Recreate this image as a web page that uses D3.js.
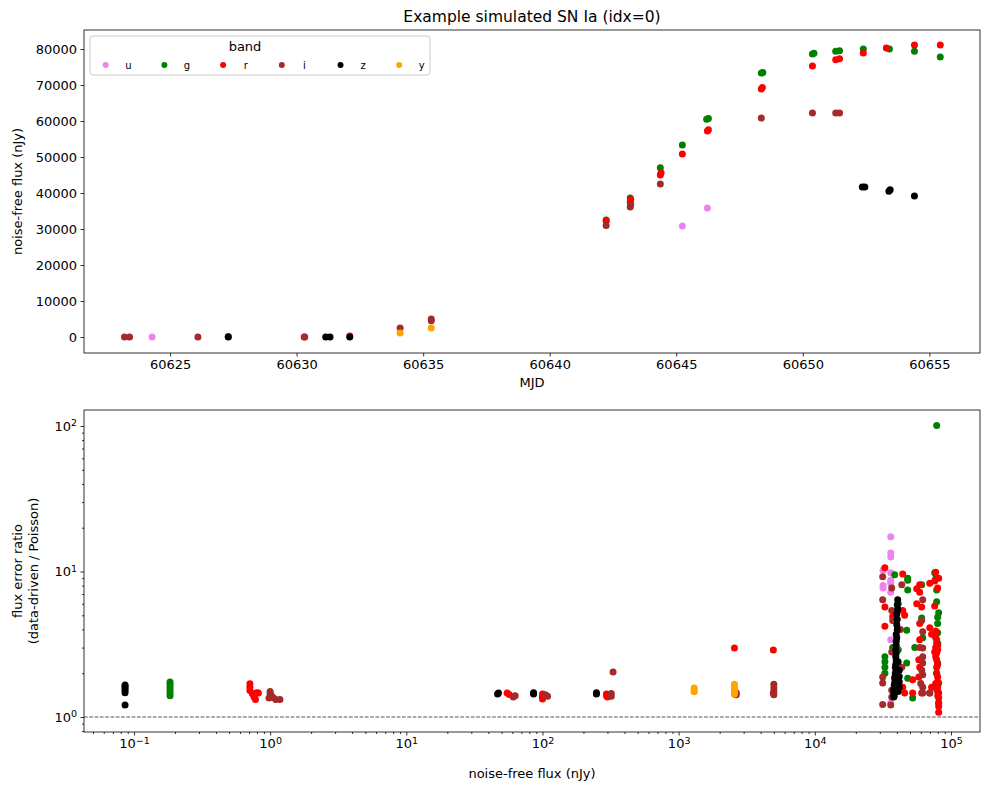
<!DOCTYPE html>
<html>
  <head>
    <meta charset="utf-8">
    <title>Example simulated SN Ia (idx=0)</title>
    <script src="https://cdn.jsdelivr.net/npm/d3@7"></script>
    <style>
      body { margin: 0; background: #fff; }
      svg { font-family: "DejaVu Sans", sans-serif; }
      .axis text { font-size: 13px; fill: #000; font-family: "DejaVu Sans", sans-serif; }
      .axis path { display: none; }
      .axis line { stroke: #000; stroke-width: 0.8; }
      .frame { fill: none; stroke: #000; stroke-width: 0.8; }
    </style>
  </head>
  <body>
    <div id="container"></div>

    <script>
      // bands and colours
      bands = ["u", "g", "r", "i", "z", "y"];
      colours = ["violet", "green", "red", "brown", "black", "orange"];

      // tick labels
      mjdTicks = [60625, 60630, 60635, 60640, 60645, 60650, 60655];
      fluxTicks = [0, 10000, 20000, 30000, 40000, 50000, 60000, 70000, 80000];
      logFluxTicks = [0.1, 1, 10, 100, 1000, 10000, 100000];
      ratioTicks = [1, 10, 100];

      // light curve: [mjd, noise-free flux]
      lcU = [[60624.29, 0], [60645.24, 30800], [60646.23, 35800]];
      lcG = [[60627.3, 150], [60642.23, 32500], [60643.18, 38600], [60644.37, 47000], [60645.24, 53300],
        [60646.2, 60500], [60646.27, 60700], [60648.36, 73300], [60648.42, 73500], [60650.38, 78600],
        [60650.44, 78800], [60651.3, 79400], [60651.45, 79500], [60652.39, 80000], [60653.42, 80000],
        [60654.41, 79400], [60655.43, 77800]];
      lcR = [[60630.3, 0], [60632.1, 300], [60642.23, 32200], [60643.18, 37500], [60643.2, 38200],
        [60644.37, 45000], [60644.4, 45600], [60645.24, 50800], [60646.23, 57200], [60646.27, 57600],
        [60648.36, 68900], [60648.4, 69300], [60650.38, 75300], [60651.3, 77000], [60651.45, 77300],
        [60652.39, 78900], [60653.3, 80300], [60654.41, 81100], [60655.43, 81100]];
      lcI = [[60623.2, 0], [60623.4, 0], [60626.1, 0], [60630.32, 0], [60634.09, 2500], [60635.32, 4500],
        [60635.32, 5000], [60642.23, 31000], [60643.18, 36100], [60643.2, 36800], [60644.37, 42500],
        [60648.36, 60800], [60650.38, 62200], [60651.3, 62200], [60651.45, 62200]];
      lcZ = [[60627.3, 0], [60631.15, 0], [60631.32, 0], [60632.1, 0], [60652.35, 41700], [60652.45, 41700],
        [60653.4, 40500], [60653.45, 40900], [60654.41, 39200]];
      lcY = [[60634.09, 1100], [60635.32, 2500]];

      // error ratio: [noise-free flux, data-driven / poisson]
      errU = [[36100, 17.3], [36100, 13.4], [36100, 12.6], [31700, 10.2], [36100, 9.8], [36100, 8.7],
        [31700, 7.7], [36100, 8.3], [36100, 7.2], [31700, 8.0], [36100, 3.4], [36100, 1.25]];
      errG = [[0.184, 1.74], [0.184, 1.67], [0.184, 1.6], [0.184, 1.53], [0.184, 1.46], [0.184, 1.4],
        [38600, 9.5], [48100, 8.7], [48100, 7.45], [75900, 9.8], [78500, 7.45], [60900, 8.1], [60900, 4.8],
        [47300, 3.95], [79800, 4.85], [79800, 4.4], [32700, 2.6], [32700, 2.4], [32700, 2.2], [32700, 2.0],
        [37300, 3.0], [47300, 2.35], [54200, 3.0], [62000, 3.5], [79800, 2.35], [81200, 1.71], [81200, 1.25],
        [79800, 1.5], [52300, 1.35], [48100, 1.85], [38600, 1.88], [78500, 2.0], [78500, 101], [77200, 8.9],
        [79800, 3.8], [80000, 3.2], [81200, 5.2], [78500, 6.2], [48100, 9.0], [41000, 6.0], [41000, 2.9]];
      errR = [[0.71, 1.69], [0.71, 1.6], [0.71, 1.52], [0.74, 1.45], [0.76, 1.38], [0.78, 1.32], [0.82, 1.46],
        [0.8, 1.47], [55, 1.46], [57, 1.43], [100, 1.44], [100, 1.38], [100, 1.33], [295, 1.44], [295, 1.4],
        [300, 1.37], [2570, 2.98], [2570, 1.44], [4960, 2.89], [4960, 1.46],
        [32700, 10.6], [44200, 9.6], [77200, 9.9], [69800, 8.3], [79800, 7.7], [32700, 5.7], [44200, 5.4],
        [45700, 5.0], [58900, 8.1], [58900, 7.2], [60900, 5.7], [75900, 5.8], [32700, 4.2], [37300, 4.9],
        [58900, 4.4], [69800, 4.1], [75900, 3.66], [78500, 3.4], [79800, 3.1], [58900, 3.4], [58000, 2.47],
        [58900, 2.2], [58000, 1.88], [52300, 1.8], [45700, 1.46], [52300, 1.46], [60900, 1.46], [69800, 1.46],
        [79800, 1.88], [79800, 1.6], [81200, 1.46], [81200, 1.25], [81200, 1.08], [78500, 2.47], [78500, 2.2],
        [78500, 2.75], [40000, 1.53], [44200, 1.6], [77200, 3.9], [77200, 3.5], [78500, 3.2], [77200, 3.0],
        [79800, 2.9], [77200, 2.6], [79800, 2.3], [78500, 2.0], [79800, 1.75], [77200, 1.7], [78500, 1.55],
        [80000, 1.4], [81200, 1.35], [81200, 1.18], [72000, 3.7], [72000, 1.6], [75900, 2.8], [75900, 8.6],
        [81200, 9.0], [56000, 7.6], [56000, 6.0]];
      errI = [[1.0, 1.5], [1.0, 1.45], [1.02, 1.4], [1.05, 1.36], [1.1, 1.32], [1.18, 1.32], [0.98, 1.35],
        [61, 1.37], [63, 1.4], [109, 1.39], [105, 1.42], [320, 1.39], [320, 1.45], [330, 2.04], [2650, 1.42],
        [2650, 1.47], [5000, 1.68], [5000, 1.58], [5000, 1.5], [5000, 1.42],
        [31500, 9.2], [36700, 7.7], [43500, 8.1], [31500, 6.4], [36700, 5.4], [37300, 4.6], [62000, 6.4],
        [60900, 4.6], [62000, 3.85], [62000, 2.98], [62000, 2.6], [62000, 2.35], [62000, 1.95], [62000, 1.6],
        [62000, 1.46], [31500, 1.88], [31500, 1.71], [36700, 1.53], [36700, 1.37], [43500, 2.2], [36700, 2.8],
        [36100, 1.21], [58900, 3.0], [69800, 1.46], [42500, 4.0], [61000, 2.1], [60000, 1.7], [31500, 1.22]];
      errZ = [[0.086, 1.66], [0.086, 1.62], [0.086, 1.57], [0.086, 1.52], [0.086, 1.47], [0.086, 1.21],
        [46.8, 1.44], [47.5, 1.46], [86, 1.44], [86, 1.47], [249, 1.44], [249, 1.47],
        [40600, 6.4], [40300, 5.9], [40600, 5.5], [40000, 5.1], [40300, 4.7], [40000, 4.3], [40300, 4.0],
        [39600, 3.7], [40000, 3.5], [39600, 3.3], [39600, 3.1], [39300, 2.9], [39600, 2.75], [39300, 2.6],
        [39600, 2.45], [39300, 2.3], [39000, 2.2], [39600, 2.1], [39000, 2.0], [39300, 1.92], [38600, 1.85],
        [39000, 1.78], [38600, 1.72], [38300, 1.65], [38600, 1.6], [38000, 1.55], [38300, 1.5], [38000, 1.45],
        [38300, 1.4], [38000, 1.37], [41700, 1.9], [41700, 1.6], [41700, 1.75], [41700, 2.1], [40900, 2.4],
        [40900, 1.5]];
      errY = [[1300, 1.58], [1300, 1.53], [1300, 1.49], [2570, 1.68], [2570, 1.62], [2570, 1.56],
        [2570, 1.5], [2570, 1.44]];

      lightCurves = [lcU, lcG, lcR, lcI, lcZ, lcY];
      errRatios = [errU, errG, errR, errI, errZ, errY];

      // layout
      width = 989;
      height = 790;
      top1 = {left: 84, right: 980, top: 30, bottom: 353};
      top2 = {left: 84, right: 980, top: 410, bottom: 732};

      svg = d3.select("#container").append("svg")
        .attr("width", width)
        .attr("height", height);

      // scales
      xMjd = d3.scaleLinear().domain([60621.6, 60657.0]).range([top1.left, top1.right]);
      yFlux = d3.scaleLinear().domain([-4444, 85278]).range([top1.bottom, top1.top]);
      xLog = d3.scaleLog().domain([Math.pow(10, -1.367), Math.pow(10, 5.213)]).range([top2.left, top2.right]);
      yLog = d3.scaleLog().domain([Math.pow(10, -0.103), Math.pow(10, 2.11)]).range([top2.bottom, top2.top]);

      function minorTicks(scale) {
        let [lo, hi] = scale.domain();
        let ticks = [];
        for (let e = Math.floor(Math.log10(lo)); e <= Math.ceil(Math.log10(hi)); e++) {
          for (let m = 2; m < 10; m++) {
            let v = m * Math.pow(10, e);
            if (v >= lo && v <= hi) ticks.push(v);
          }
        }
        return ticks;
      }

      function powerLabels(sel) {
        sel.selectAll(".tick text").each(function(d) {
          let t = d3.select(this).text(null);
          let e = Math.round(Math.log10(d));
          t.append("tspan").text("10");
          t.append("tspan")
            .attr("dy", "-0.45em")
            .style("font-size", "9.5px")
            .text(e < 0 ? "\u2212" + (-e) : e);
        });
      }

      // ---- top panel: light curve ----
      g1 = svg.append("g");

      g1.append("g")
        .classed("axis", true)
        .attr("transform", "translate(0," + top1.bottom + ")")
        .call(d3.axisBottom(xMjd).tickValues(mjdTicks).tickFormat(d3.format("d"))
          .tickSizeInner(3.5).tickSizeOuter(0).tickPadding(3.5));

      g1.append("g")
        .classed("axis", true)
        .attr("transform", "translate(" + top1.left + ",0)")
        .call(d3.axisLeft(yFlux).tickValues(fluxTicks).tickFormat(d3.format("d"))
          .tickSizeInner(3.5).tickSizeOuter(0).tickPadding(3.5));

      lightCurves.forEach((pts, i) => {
        g1.append("g")
          .style("fill", colours[i])
          .selectAll("circle")
            .data(pts)
          .enter().append("circle")
            .attr("cx", d => xMjd(d[0]))
            .attr("cy", d => yFlux(d[1]))
            .attr("r", 3.5);
      });

      g1.append("rect")
        .classed("frame", true)
        .attr("x", top1.left)
        .attr("y", top1.top)
        .attr("width", top1.right - top1.left)
        .attr("height", top1.bottom - top1.top);

      // legend
      legend = g1.append("g");
      legend.append("rect")
        .attr("x", 90).attr("y", 36)
        .attr("width", 340).attr("height", 39)
        .attr("rx", 3)
        .style("fill", "#fff").style("fill-opacity", 0.8)
        .style("stroke", "#ccc").style("stroke-width", 1);
      legend.append("text")
        .attr("x", 245).attr("y", 51)
        .attr("text-anchor", "middle")
        .style("font-size", "13px")
        .text("band");
      bands.forEach((b, i) => {
        legend.append("circle")
          .attr("cx", 105.7 + i * 58.7)
          .attr("cy", 65)
          .attr("r", 3)
          .style("fill", colours[i]);
        legend.append("text")
          .attr("x", 128.3 + i * 58.7)
          .attr("y", 68.5)
          .attr("text-anchor", "middle")
          .style("font-size", "10px")
          .text(b);
      });

      // titles
      svg.append("text")
        .attr("x", (top1.left + top1.right) / 2)
        .attr("y", 22)
        .attr("text-anchor", "middle")
        .style("font-size", "15.5px")
        .text("Example simulated SN Ia (idx=0)");
      svg.append("text")
        .attr("x", (top1.left + top1.right) / 2)
        .attr("y", 387)
        .attr("text-anchor", "middle")
        .style("font-size", "13px")
        .text("MJD");
      svg.append("text")
        .attr("transform", "translate(22," + (top1.top + top1.bottom) / 2 + ") rotate(-90)")
        .attr("text-anchor", "middle")
        .style("font-size", "13px")
        .text("noise-free flux (nJy)");

      // ---- bottom panel: error ratio ----
      g2 = svg.append("g");

      g2.append("g")
        .classed("axis", true)
        .attr("transform", "translate(0," + top2.bottom + ")")
        .call(d3.axisBottom(xLog).tickValues(minorTicks(xLog)).tickFormat("")
          .tickSizeInner(2).tickSizeOuter(0));
      g2.append("g")
        .classed("axis", true)
        .attr("transform", "translate(0," + top2.bottom + ")")
        .call(d3.axisBottom(xLog).tickValues(logFluxTicks)
          .tickSizeInner(3.5).tickSizeOuter(0).tickPadding(3.5))
        .call(powerLabels);

      g2.append("g")
        .classed("axis", true)
        .attr("transform", "translate(" + top2.left + ",0)")
        .call(d3.axisLeft(yLog).tickValues(minorTicks(yLog)).tickFormat("")
          .tickSizeInner(2).tickSizeOuter(0));
      g2.append("g")
        .classed("axis", true)
        .attr("transform", "translate(" + top2.left + ",0)")
        .call(d3.axisLeft(yLog).tickValues(ratioTicks)
          .tickSizeInner(3.5).tickSizeOuter(0).tickPadding(3.5))
        .call(powerLabels);

      // reference line at ratio = 1
      g2.append("line")
        .attr("x1", top2.left).attr("x2", top2.right)
        .attr("y1", yLog(1)).attr("y2", yLog(1))
        .style("stroke", "#555")
        .style("stroke-width", 1)
        .style("stroke-dasharray", "3.7,1.6");

      errRatios.forEach((pts, i) => {
        g2.append("g")
          .style("fill", colours[i])
          .selectAll("circle")
            .data(pts)
          .enter().append("circle")
            .attr("cx", d => xLog(d[0]))
            .attr("cy", d => yLog(d[1]))
            .attr("r", 3.5);
      });

      g2.append("rect")
        .classed("frame", true)
        .attr("x", top2.left)
        .attr("y", top2.top)
        .attr("width", top2.right - top2.left)
        .attr("height", top2.bottom - top2.top);

      svg.append("text")
        .attr("x", (top2.left + top2.right) / 2)
        .attr("y", 778)
        .attr("text-anchor", "middle")
        .style("font-size", "13px")
        .text("noise-free flux (nJy)");
      ylab = svg.append("text")
        .attr("transform", "translate(22," + (top2.top + top2.bottom) / 2 + ") rotate(-90)")
        .attr("text-anchor", "middle")
        .style("font-size", "13px");
      ylab.append("tspan").attr("x", 0).attr("dy", 0).text("flux error ratio");
      ylab.append("tspan").attr("x", 0).attr("dy", "1.25em").text("(data-driven / Poisson)");
    </script>
  </body>
</html>
